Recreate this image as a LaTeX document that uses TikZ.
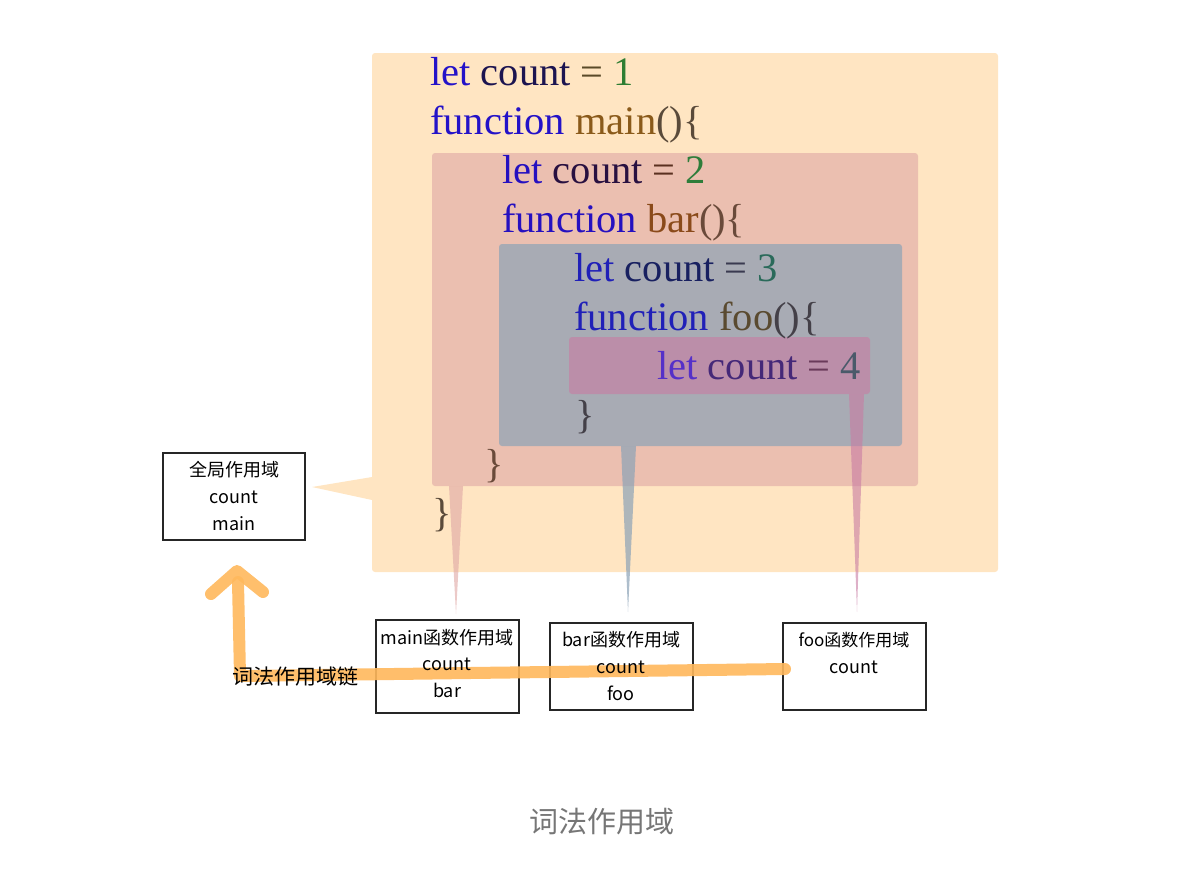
\documentclass[tikz,border=0pt]{standalone}
\usepackage{fontspec}
\setmainfont{Liberation Serif}
\newfontfamily\cjk{Noto Sans CJK SC}
\definecolor{peach}{HTML}{FFE5C2}
\definecolor{redb}{RGB}{223,167,164}
\definecolor{grayb}{RGB}{140,163,183}
\definecolor{pinkb}{RGB}{200,124,163}
\definecolor{orangeln}{HTML}{FFB85C}
\definecolor{kwA}{HTML}{2412C8}
\definecolor{cvA}{HTML}{1C1450}
\definecolor{eqA}{HTML}{5A4A28}
\definecolor{numA}{HTML}{2E7D32}
\definecolor{kwB}{HTML}{2510C0}
\definecolor{cvB}{HTML}{281040}
\definecolor{eqB}{HTML}{5A3020}
\definecolor{numB}{HTML}{2E7D3A}
\definecolor{kwC}{HTML}{2020B8}
\definecolor{cvC}{HTML}{182060}
\definecolor{eqC}{HTML}{3A3A50}
\definecolor{numC}{HTML}{2A6A5A}
\definecolor{kwD}{HTML}{5530C8}
\definecolor{cvD}{HTML}{452878}
\definecolor{eqD}{HTML}{6A3A5A}
\definecolor{numD}{HTML}{4A5A6A}
\definecolor{fnMain}{HTML}{8A5A1A}
\definecolor{pMain}{HTML}{5A4A3A}
\definecolor{fnBar}{HTML}{8A4A1A}
\definecolor{pBar}{HTML}{6A4A3A}
\definecolor{fnFoo}{HTML}{5A4A30}
\definecolor{pFoo}{HTML}{444048}
\definecolor{capgray}{HTML}{767676}
\begin{document}
\begin{tikzpicture}[x=1pt,y=-1pt,
  code/.style={anchor=base west,inner sep=0pt,font=\fontsize{40.5}{48}\selectfont},
  scopebox/.style={draw=black!85,line width=1.2pt,fill=white},
  lbl/.style={anchor=base,inner sep=0pt,font=\cjk\fontsize{18}{21}\selectfont,text=black},
  chain/.style={draw=orangeln,line width=12pt,line cap=round,line join=round,opacity=0.9}]
\useasboundingbox (0,0) rectangle (1204,870);
% outer global scope
\fill[peach,rounded corners=3pt] (372,53) rectangle (998,572);
\fill[peach] (372,477) -- (312,487) -- (372,500) -- cycle;
% main scope
\fill[redb,fill opacity=0.6,rounded corners=3pt] (432,153) rectangle (918,486);
\fill[redb,fill opacity=0.6] (449,486) -- (456,614) -- (463,486) -- cycle;
% bar scope
\fill[grayb,fill opacity=0.7,rounded corners=3pt] (499,244) rectangle (902,446);
\fill[grayb,fill opacity=0.7] (621,446) -- (628,612) -- (636,446) -- cycle;
% foo scope
\fill[pinkb,fill opacity=0.6,rounded corners=3pt] (569,337) rectangle (870,394);
\fill[pinkb,fill opacity=0.6] (849,394) -- (857,612) -- (864,394) -- cycle;
% code
\node[code] (l1) at (430,85) {\textcolor{kwA}{let} \textcolor{cvA}{count} \textcolor{eqA}{=} \textcolor{numA}{1}};
\node[code] (l2) at (430,134) {\textcolor{kwA}{function} \textcolor{fnMain}{main}\textcolor{pMain}{()\{}};
\node[code] (l3) at (502,183) {\textcolor{kwB}{let} \textcolor{cvB}{count} \textcolor{eqB}{=} \textcolor{numB}{2}};
\node[code] (l4) at (502,232) {\textcolor{kwB}{function} \textcolor{fnBar}{bar}\textcolor{pBar}{()\{}};
\node[code] (l5) at (574,281) {\textcolor{kwC}{let} \textcolor{cvC}{count} \textcolor{eqC}{=} \textcolor{numC}{3}};
\node[code] (l6) at (574,330) {\textcolor{kwC}{function} \textcolor{fnFoo}{foo}\textcolor{pFoo}{()\{}};
\node[code] (l7) at (657,379) {\textcolor{kwD}{let} \textcolor{cvD}{count} \textcolor{eqD}{=} \textcolor{numD}{4}};
\node[code,text=pFoo] (l8) at (575,428) {\}};
\node[code,text=pBar] (l9) at (484,477) {\}};
\node[code,text=pMain] (l10) at (432,526) {\}};
% scope boxes
\draw[scopebox] (163,453) rectangle (305,540);
\draw[scopebox] (376,620) rectangle (519,713);
\draw[scopebox] (550,623) rectangle (693,710);
\draw[scopebox] (783,623) rectangle (926,710);
\coordinate (gbot) at (238,582);
\coordinate (corner) at (240,676);
\coordinate (fooL) at (785,669);
\coordinate (mid) at (470,673);
% scope chain
\draw[chain] (fooL) -- (mid) -- (corner) -- (gbot);
\draw[chain] (211,594) -- (237,571) -- (263,592);
% labels
\node[lbl] (g1) at (234,476) {全局作用域};
\node[lbl] (g2) at (234,503) {count};
\node[lbl] (g3) at (234,530) {main};
\node[lbl] (m1) at (447,644) {main函数作用域};
\node[lbl] (m2) at (447,670) {count};
\node[lbl] (m3) at (447,697) {bar};
\node[lbl] (b1) at (621,646) {bar函数作用域};
\node[lbl] (b2) at (621,673) {count};
\node[lbl] (b3) at (621,700) {foo};
\node[lbl,font=\cjk\fontsize{17}{21}\selectfont] (f1) at (854,646) {foo函数作用域};
\node[lbl] (f2) at (854,673) {count};
\node[lbl,font=\cjk\fontsize{21}{24}\selectfont] (chainlbl) at (295,684) {词法作用域链};
\node[anchor=base,inner sep=0pt,font=\cjk\fontsize{29}{34}\selectfont,text=capgray] (cap) at (602,832) {词法作用域};
\end{tikzpicture}
\end{document}
